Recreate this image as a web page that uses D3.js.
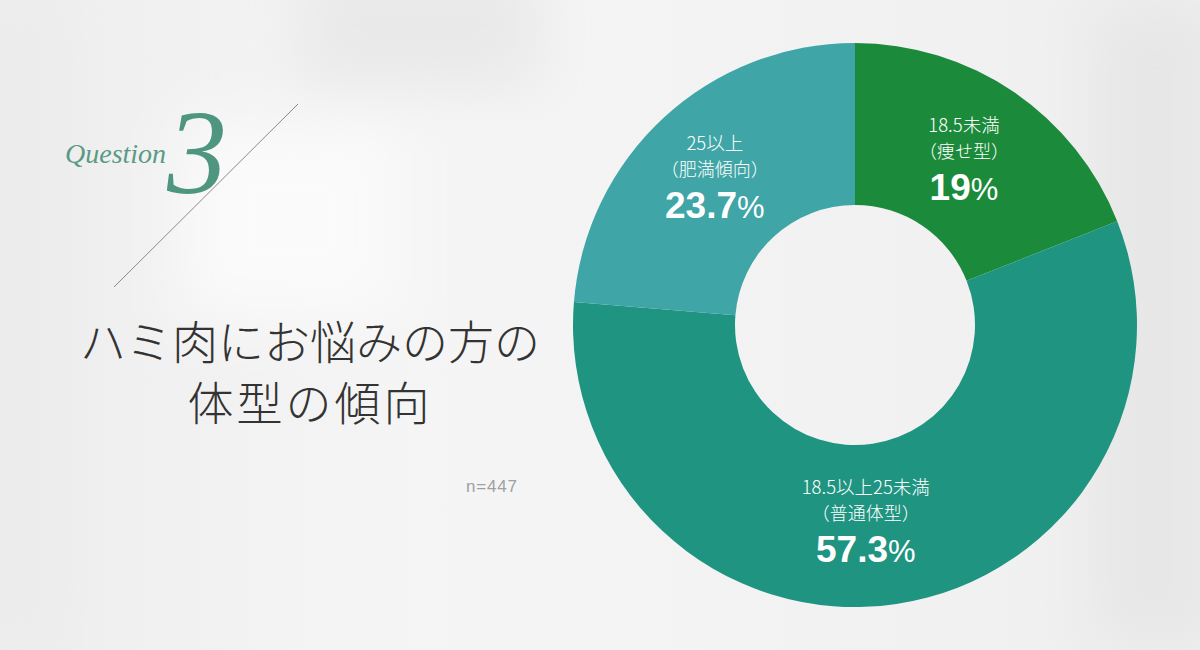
<!DOCTYPE html>
<html>
<head>
<meta charset="utf-8">
<script src="https://cdn.jsdelivr.net/npm/d3@7"></script>
<style>
  html, body { margin: 0; padding: 0; background: #f1f1f1; }
  svg { display: block; }
</style>
</head>
<body>
<div id="chart"></div>
<script>
// Données du graphique
const categories = ['18.5未満', '18.5以上25未満', '25以上'];
const subLabels = ['（痩せ型）', '（普通体型）', '（肥満傾向）'];
const values = [19, 57.3, 23.7];
const colors = ['#1b8a3b', '#1f9481', '#3fa5a6'];

const W = 1200, H = 650;
const CX = 855, CY = 325;
const R_OUT = 282, R_IN = 120;

const svg = d3.select('#chart').append('svg')
    .attr('width', W)
    .attr('height', H);

// Fond flou (photo estompée)
const defs = svg.append('defs');
defs.append('filter').attr('id', 'blur')
    .attr('x', '-50%').attr('y', '-50%').attr('width', '200%').attr('height', '200%')
    .append('feGaussianBlur').attr('stdDeviation', 30);

const bgGrad = defs.append('linearGradient').attr('id', 'bg')
    .attr('x1', 0).attr('x2', 1).attr('y1', 0).attr('y2', 0);
bgGrad.append('stop').attr('offset', '0%').attr('stop-color', '#eeeeee');
bgGrad.append('stop').attr('offset', '35%').attr('stop-color', '#f5f5f5');
bgGrad.append('stop').attr('offset', '100%').attr('stop-color', '#efefef');

svg.append('rect').attr('width', W).attr('height', H).attr('fill', 'url(#bg)');

const bg = svg.append('g').attr('filter', 'url(#blur)');
bg.append('rect').attr('x', 300).attr('y', -40).attr('width', 240).attr('height', 130).attr('fill', '#e9e9e9');
bg.append('rect').attr('x', 1090).attr('y', 0).attr('width', 130).attr('height', 650).attr('fill', '#e7e7e7');
bg.append('rect').attr('x', -20).attr('y', 0).attr('width', 80).attr('height', 650).attr('fill', '#ebebeb');
bg.append('rect').attr('x', 180).attr('y', 120).attr('width', 220).attr('height', 200).attr('fill', '#fafafa');

// Titre à gauche
svg.append('text')
    .attr('x', 65).attr('y', 163)
    .attr('font-family', '"Liberation Serif", serif')
    .attr('font-style', 'italic')
    .attr('font-size', 28)
    .attr('fill', '#5b9a86')
    .text('Question');

svg.append('text')
    .attr('x', 167).attr('y', 193)
    .attr('font-family', '"Liberation Serif", serif')
    .attr('font-style', 'italic')
    .attr('font-size', 120)
    .attr('fill', '#4f9681')
    .text('3');

svg.append('line')
    .attr('x1', 298).attr('y1', 104)
    .attr('x2', 114).attr('y2', 287)
    .attr('stroke', '#8a8a8a')
    .attr('stroke-width', 1);

const titleLines = ['ハミ肉にお悩みの方の', '体型の傾向'];
svg.append('g').selectAll('text')
    .data(titleLines)
    .join('text')
    .attr('x', 310)
    .attr('y', (d, i) => 359 + i * 61)
    .attr('text-anchor', 'middle')
    .attr('font-family', '"Noto Sans CJK JP", sans-serif')
    .attr('font-weight', 300)
    .attr('font-size', 46)
    .attr('letter-spacing', (d, i) => i === 1 ? 3 : 0)
    .attr('fill', '#333333')
    .text(d => d);

svg.append('text')
    .attr('x', 466).attr('y', 492)
    .attr('font-family', '"Liberation Sans", Arial, sans-serif')
    .attr('font-size', 17)
    .attr('letter-spacing', 0.8)
    .attr('fill', '#a0a0a0')
    .text('n=447');

// Donut
const pie = d3.pie().sort(null).value(d => d);
const arc = d3.arc().innerRadius(R_IN).outerRadius(R_OUT);
const labelArc = d3.arc().innerRadius((R_IN + R_OUT) / 2).outerRadius((R_IN + R_OUT) / 2);

const arcs = pie(values);

const g = svg.append('g').attr('transform', `translate(${CX},${CY})`);

g.selectAll('path')
    .data(arcs)
    .join('path')
    .attr('d', arc)
    .attr('fill', (d, i) => colors[i]);

// Étiquettes : la grande tranche est ramenée vers le milieu sous le trou
const labels = g.selectAll('.label')
    .data(arcs)
    .join('g')
    .attr('class', 'label')
    .attr('transform', (d, i) => {
        let [x, y] = labelArc.centroid(d);
        if (i === 1) { x = x * 0.5; y = y - 3; }
        return `translate(${x - 4},${y})`;
    });

labels.append('text')
    .attr('y', -27)
    .attr('text-anchor', 'middle')
    .attr('font-family', '"Noto Sans CJK JP", sans-serif')
    .attr('font-weight', 300)
    .attr('font-size', 18.5)
    .attr('fill', '#ffffff')
    .text((d, i) => categories[i]);

labels.append('text')
    .attr('y', -1)
    .attr('text-anchor', 'middle')
    .attr('font-family', '"Noto Sans CJK JP", sans-serif')
    .attr('font-weight', 300)
    .attr('font-size', 18)
    .attr('fill', '#ffffff')
    .text((d, i) => subLabels[i]);

const pct = labels.append('text')
    .attr('y', 41)
    .attr('text-anchor', 'middle')
    .attr('font-family', '"Liberation Sans", Arial, sans-serif')
    .attr('fill', '#ffffff');

pct.append('tspan')
    .attr('font-weight', 'bold')
    .attr('font-size', 37)
    .text((d, i) => values[i]);

pct.append('tspan')
    .attr('font-size', 31)
    .text('%');
</script>
</body>
</html>
